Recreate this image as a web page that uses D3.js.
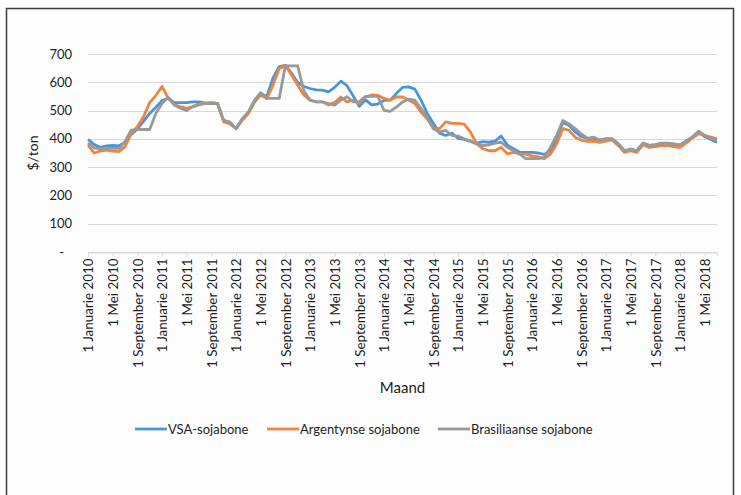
<!DOCTYPE html>
<html>
<meta charset="utf-8">
<head>
  <script src="https://d3js.org/d3.v7.min.js"></script>
  <style>
    body { margin: 0; background: #fff; }
    text { font-family: Lato, "Open Sans", sans-serif; fill: #1e1e1e; }
    .grid line { stroke: #d9d9d9; stroke-width: 1; }
    .series { fill: none; stroke-width: 2.8; stroke-linejoin: round; }
  </style>
</head>
<body>
<div id="chart"></div>
<script>
  "use strict"

  // monthly prices, Jan 2010 .. Jul 2018 ($/ton)
  var startYear = 2010;
  var monthNames = ["Januarie", "Februarie", "Maart", "April", "Mei", "Junie",
                    "Julie", "Augustus", "September", "Oktober", "November", "Desember"];

  var vsa = [398,380,370,375,377,375,388,415,435,462,490,512,535,543,528,528,528,531,531,527,
             525,525,465,456,437,468,492,530,560,550,615,655,660,632,600,585,578,573,572,566,
             582,604,588,552,515,538,520,523,536,537,560,582,584,576,537,490,455,420,412,420,
             402,398,392,384,390,388,392,410,378,365,353,352,352,350,345,358,400,458,448,425,
             408,402,402,396,400,400,382,358,364,358,385,377,380,384,384,381,378,392,406,425,
             408,398,388];

  var argentinie = [378,350,357,360,357,355,372,418,443,478,528,553,585,545,520,514,508,514,524,525,
                    527,525,460,453,436,465,489,531,555,543,590,648,660,626,590,555,537,531,531,520,
                    528,548,531,537,525,548,555,554,543,537,548,548,537,525,495,471,438,436,460,455,
                    455,452,425,384,365,358,358,370,347,352,347,346,340,336,330,346,382,436,430,406,
                    395,391,392,388,392,396,376,352,358,352,379,370,373,376,376,373,370,385,403,418,
                    412,406,400];

  var brasilie = [385,368,365,367,366,366,390,431,433,433,433,490,525,547,520,508,500,514,520,525,
                  528,525,465,460,436,471,495,537,563,543,543,543,658,658,658,570,537,531,531,525,
                  519,537,549,531,531,550,550,550,501,497,512,530,540,537,507,477,436,424,430,412,
                  410,400,392,382,376,379,385,388,370,358,346,330,330,330,334,370,412,465,453,436,
                  418,402,406,396,400,400,382,358,364,358,385,376,379,385,385,382,379,392,406,427,
                  412,400,396];

  var yTicks = [0, 100, 200, 300, 400, 500, 600, 700];

  var seriesNames = ["VSA-sojabone", "Argentynse sojabone", "Brasiliaanse sojabone"];
  var colors = ["#4895d9", "#ef8440", "#999999"];

  var width = 741, height = 495;
  var plotLeft = 88, plotRight = 717, plotTop = 54, plotBottom = 252;

  var svg = d3.select("#chart").append("svg")
      .attr("width", width)
      .attr("height", height);

  // outer frame
  svg.append("rect")
      .attr("x", 6.5).attr("y", 8.5)
      .attr("width", 727).attr("height", 520)
      .attr("fill", "#fdfdfe")
      .attr("stroke", "#3a3a3a")
      .attr("stroke-width", 1.5);

  var n = vsa.length;
  var x = d3.scaleLinear().domain([0, n - 1]).range([plotLeft, plotRight]);
  var y = d3.scaleLinear().domain([0, 700]).range([plotBottom, plotTop]);

  // gridlines
  svg.append("g").attr("class", "grid")
    .selectAll("line").data(yTicks).enter().append("line")
      .attr("x1", plotLeft).attr("x2", plotRight)
      .attr("y1", function(d) { return Math.round(y(d)) + 0.5; })
      .attr("y2", function(d) { return Math.round(y(d)) + 0.5; });

  // y labels
  svg.append("g")
    .selectAll("text").data(yTicks).enter().append("text")
      .attr("x", function(d) { return d === 0 ? 64 : 72; })
      .attr("y", function(d) { return y(d); })
      .attr("dy", "0.35em")
      .attr("text-anchor", "end")
      .style("font-size", "13px")
      .text(function(d) { return d === 0 ? "-" : d; });

  svg.append("text")
      .attr("transform", "translate(38," + ((plotTop + plotBottom) / 2) + ") rotate(-90)")
      .attr("text-anchor", "middle")
      .style("font-size", "14px")
      .text("$/ton");

  // x ticks every 4 months
  var tickIdx = d3.range(0, n, 4);
  var xAxis = d3.axisBottom(x)
      .tickValues(tickIdx)
      .tickSize(4)
      .tickFormat(function(i) {
        return "1 " + monthNames[i % 12] + " " + (startYear + Math.floor(i / 12));
      });

  var gx = svg.append("g")
      .attr("transform", "translate(0," + (Math.round(plotBottom) + 0.5) + ")")
      .call(xAxis);
  gx.select(".domain").attr("stroke", "#d9d9d9");
  gx.selectAll(".tick line").attr("stroke", "#d9d9d9");
  gx.selectAll(".tick text")
      .attr("transform", "rotate(-90)")
      .attr("x", -6).attr("y", 0).attr("dy", "0.35em")
      .attr("text-anchor", "end")
      .style("font-family", "Lato, 'Open Sans', sans-serif")
      .style("font-size", "13.4px")
      .attr("fill", "#1e1e1e");

  svg.append("text")
      .attr("x", (plotLeft + plotRight) / 2)
      .attr("y", 393)
      .attr("text-anchor", "middle")
      .style("font-size", "15px")
      .text("Maand");

  // lines
  var line = d3.line()
      .x(function(d, i) { return x(i); })
      .y(function(d) { return y(d); });

  var allSeries = [vsa, argentinie, brasilie];
  svg.append("g")
    .selectAll("path").data(allSeries).enter().append("path")
      .attr("class", "series")
      .attr("stroke", function(d, i) { return colors[i]; })
      .attr("d", line);

  // legend
  var legendX = [135, 267, 438];
  var lg = svg.append("g").selectAll("g").data(seriesNames).enter().append("g")
      .attr("transform", function(d, i) { return "translate(" + legendX[i] + ",429)"; });
  lg.append("line")
      .attr("x1", 0).attr("x2", 32)
      .attr("stroke", function(d, i) { return colors[i]; })
      .attr("stroke-width", 2.8);
  lg.append("text")
      .attr("x", 33).attr("dy", "0.35em")
      .style("font-size", "13px")
      .text(function(d) { return d; });
</script>
</body>
</html>
